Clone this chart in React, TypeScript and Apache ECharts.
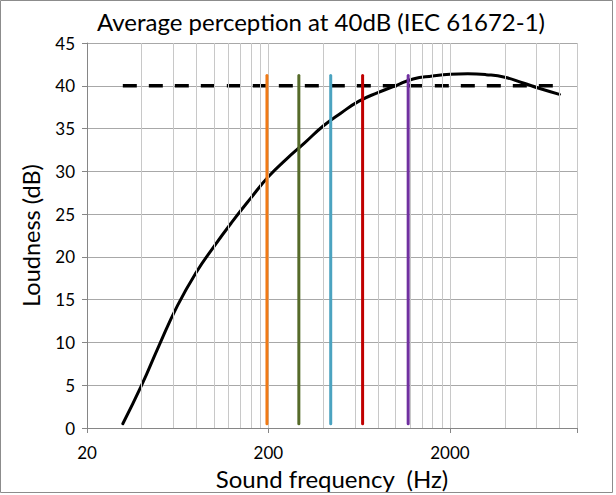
import React, { useEffect, useRef } from "react";
import * as echarts from "echarts";

// Loudness curve (Hz, dB)
const freqs = [31.5, 40, 50, 63, 80, 100, 125, 160, 200, 250, 315, 400, 500, 630, 800, 1000, 1250, 1600, 2000, 2500, 3150, 4000, 5000, 6300, 8000];
const loudness = [0.5, 5.0, 9.7, 14.3, 18.2, 21.2, 24.0, 26.9, 29.4, 31.4, 33.3, 35.3, 36.8, 38.2, 39.2, 40.0, 40.8, 41.15, 41.35, 41.4, 41.3, 41.0, 40.35, 39.65, 39.0];

// 40 dB reference (dashed)
const refFreqs = [31.5, 8000];
const refLevel = [40, 40];

// Coloured vertical markers
const noteFreqs = [196, 293.7, 440, 659.3, 1175];
const noteColors = ["#F07A16", "#566B2A", "#4BA3C0", "#C00000", "#7030A0"];
const noteBottom = 0.5;
const noteTop = 41.2;

// Vertical grid lines of the log axis
const gridFreqs = [40, 60, 80, 100, 120, 140, 160, 180, 200, 400, 600, 800, 1000, 1200, 1400, 1600, 1800, 2000, 4000, 6000, 8000, 10000];

// Tick labels
const xTickLabels = ["20", "200", "2000"];

const FONT = "Lato";

export default function App() {
  const ref = useRef<HTMLDivElement>(null);
  useEffect(() => {
    if (!ref.current) return;
    const chart = echarts.init(ref.current, null, { renderer: "svg" });
    const option: any = {
      animation: false,
      backgroundColor: "#ffffff",
      textStyle: { fontFamily: FONT },
      grid: { left: 87, right: 39, top: 43, bottom: 67, containLabel: false },
      graphic: [
        {
          type: "rect",
          silent: true,
          shape: { x: 0.5, y: 0.5, width: 612, height: 492 },
          style: { fill: "none", stroke: "#8c8c8c", lineWidth: 1 },
        },
        {
          type: "text",
          silent: true,
          x: 321,
          y: 9,
          style: {
            text: "Average perception at 40dB (IEC 61672-1)",
            font: `24px ${FONT}`,
            fill: "#000000",
            align: "center",
            verticalAlign: "top",
          },
        },
      ],
      xAxis: {
        type: "log",
        logBase: 10,
        min: 20,
        max: 10000,
        interval: 1,
        name: "Sound frequency  (Hz)",
        nameLocation: "middle",
        nameGap: 38,
        nameTextStyle: { fontSize: 24, color: "#000", fontFamily: FONT },
        axisLine: { show: true, lineStyle: { color: "#868686", width: 1 } },
        axisTick: { show: true, length: 5, lineStyle: { color: "#868686" } },
        axisLabel: {
          fontSize: 17,
          color: "#000",
          fontFamily: FONT,
          margin: 16,
          formatter: (v: number) => {
            const hit = xTickLabels.find((s) => Math.abs(Number(s) - v) / Number(s) < 0.02);
            return hit || "";
          },
        },
        splitLine: { show: false },
        minorTick: { show: false },
      },
      yAxis: {
        type: "value",
        min: 0,
        max: 45,
        interval: 5,
        name: "Loudness (dB)",
        nameLocation: "middle",
        nameGap: 44,
        nameTextStyle: { fontSize: 23.5, color: "#000", fontFamily: FONT },
        axisLine: { show: true, lineStyle: { color: "#868686", width: 1 } },
        axisTick: { show: true, length: 5, lineStyle: { color: "#868686" } },
        axisLabel: { fontSize: 17, color: "#000", fontFamily: FONT, margin: 12 },
        splitLine: { show: true, lineStyle: { color: "#a8a8a8", width: 1 } },
      },
      series: [
        {
          type: "line",
          data: [],
          z: 1,
          silent: true,
          markLine: {
            silent: true,
            symbol: ["none", "none"],
            label: { show: false },
            lineStyle: { color: "#c8c8c8", width: 1, type: "solid" },
            emphasis: { disabled: true },
            data: gridFreqs.map((f) => ({ xAxis: f })),
          },
        },
        {
          type: "line",
          z: 3,
          silent: true,
          symbol: "none",
          data: refFreqs.map((f, i) => [f, refLevel[i]]),
          lineStyle: { color: "#000", width: 3.5, type: [14, 12] },
        },
        {
          type: "line",
          z: 4,
          silent: true,
          symbol: "none",
          smooth: 0.5,
          data: freqs.map((f, i) => [f, loudness[i]]),
          lineStyle: { color: "#000", width: 3, cap: "round", join: "round" },
        },
        ...noteFreqs.map((f, i) => ({
          type: "line",
          z: 5,
          silent: true,
          symbol: "none",
          data: [
            [f, noteBottom],
            [f, noteTop],
          ],
          lineStyle: { color: noteColors[i], width: 3, cap: "round" },
        })),
      ],
    };
    chart.setOption(option);
    return () => chart.dispose();
  }, []);
  return (
    <div
      ref={ref}
      style={{ position: "absolute", left: 0, top: 0, width: 616, height: 495, background: "#fff" }}
    />
  );
}
